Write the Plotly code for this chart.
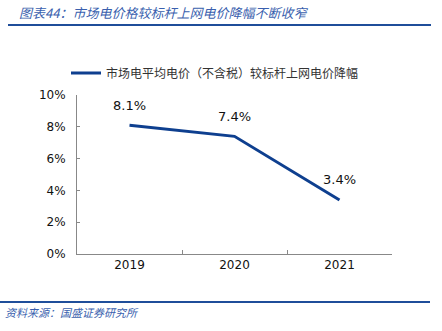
import plotly.graph_objects as go

years = ["2019", "2020", "2021"]
values = [8.1, 7.4, 3.4]
labels = ["8.1%", "7.4%", "3.4%"]
yticks = [0, 2, 4, 6, 8, 10]
yticklabels = ["0%", "2%", "4%", "6%", "8%", "10%"]

title = "图表44：市场电价格较标杆上网电价降幅不断收窄"
series_name = "市场电平均电价（不含税）较标杆上网电价降幅"
source = "资料来源：国盛证券研究所"

line_color = "#0E3F8F"
cjk = "Noto Sans CJK SC"
num_font = "DejaVu Sans"

# plot area in pixels: x 77..392, y 95..254
L, R, T, B = 77, 50, 95, 77
W, H = 442, 331
pw, ph = W - L - R, H - T - B

def px_x(x):
    return (x - L) / pw

def px_y(y):
    return (H - B - y) / ph

fig = go.Figure()
fig.add_trace(go.Scatter(
    x=years, y=values, mode="lines", name=series_name,
    line=dict(color=line_color, width=3),
    cliponaxis=False,
))

# category axis: annotation x given as category index
for i, (v, t) in enumerate(zip(values, labels)):
    fig.add_annotation(x=i, y=v, xref="x", yref="y", text=t, showarrow=False,
                       yshift=20, yanchor="middle",
                       font=dict(family=num_font, size=13, color="#111"))

fig.update_layout(
    width=W, height=H,
    margin=dict(l=L, r=R, t=T, b=B),
    paper_bgcolor="white", plot_bgcolor="white",
    showlegend=True,
    legend=dict(orientation="h", x=px_x(66), xanchor="left", y=px_y(73), yanchor="middle",
                font=dict(family=cjk, size=12, color="#333"),
                itemwidth=30, bgcolor="rgba(0,0,0,0)"),
    xaxis=dict(type="category", showline=True, linecolor="#888", linewidth=1,
               ticks="inside", tickson="boundaries", ticklen=4, tickcolor="#888",
               tickfont=dict(family=num_font, size=12, color="#111"), showgrid=False,
               range=[-0.5, 2.5]),
    yaxis=dict(range=[0, 10], tickvals=yticks, ticktext=yticklabels,
               showline=True, linecolor="#888", linewidth=1,
               ticks="inside", ticklen=3, tickcolor="#888",
               tickfont=dict(family=num_font, size=12, color="#111"),
               showgrid=False, zeroline=False, ticklabelstandoff=8),
    font=dict(family=cjk),
)

fig.add_annotation(xref="paper", yref="paper", x=px_x(17), y=px_y(13),
                   xanchor="left", yanchor="middle", text="<i>" + title + "</i>",
                   showarrow=False, font=dict(family=cjk, size=13, color="#3A5FAE"))
fig.add_shape(type="line", xref="paper", yref="paper", x0=px_x(8), x1=px_x(431),
              y0=px_y(25), y1=px_y(25), line=dict(color="#1F4E9A", width=2))
fig.add_shape(type="line", xref="paper", yref="paper", x0=px_x(0), x1=px_x(430),
              y0=px_y(302), y1=px_y(302), line=dict(color="#1F4E9A", width=2))
fig.add_annotation(xref="paper", yref="paper", x=px_x(3), y=px_y(312),
                   xanchor="left", yanchor="middle", text="<i>" + source + "</i>",
                   showarrow=False, font=dict(family=cjk, size=11, color="#3A5FAE"))

fig.write_html("out.html")
